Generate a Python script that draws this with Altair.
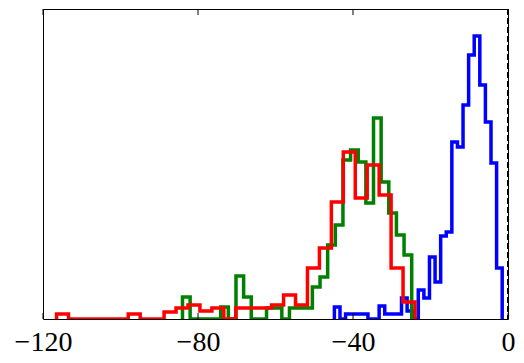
import altair as alt
import numpy as np
import pandas as pd

# Three step histograms, 30 bins each over their own range
blue_range = [-44.8, -1.5]
green_range = [-84.0, -24.85]
red_range = [-116.5, -24.0]

blue_counts = [12, 0, 5, 5, 5, 5, 0, 0, 13, 5, 5, 5, 21, 8, 0, 29, 21, 62, 37, 83,
               87, 177, 172, 214, 264, 283, 234, 197, 156, 51]
green_counts = [22, 0, 0, 0, 0, 12, 0, 43, 22, 0, 0, 11, 11, 0, 11, 11, 11, 32, 42, 74,
                94, 159, 169, 157, 116, 201, 137, 106, 84, 64]
red_counts = [5, 0, 0, 0, 0, 0, 5, 0, 0, 7, 11, 14, 8, 11, 0, 11, 11, 11, 14, 24,
              14, 51, 71, 117, 167, 121, 154, 124, 51, 17]

x_domain = [-120, 0]
y_domain = [0, 310]
tick_values = [-120, -80, -40, 0]
vline_x = [0]

SERIF = "'Liberation Serif', 'DejaVu Serif', serif"


def outline(name, rng, counts):
    edges = np.linspace(rng[0], rng[1], len(counts) + 1)
    xs, ys = [edges[0]], [0]
    for i, c in enumerate(counts):
        xs += [edges[i], edges[i + 1]]
        ys += [c, c]
    xs.append(edges[-1])
    ys.append(0)
    return pd.DataFrame({"x": xs, "y": ys, "order": range(len(xs)), "series": name})


xscale = alt.Scale(domain=x_domain, nice=False, zero=False)
yscale = alt.Scale(domain=y_domain, nice=False, zero=False)

xaxis = alt.Axis(values=tick_values, format="d", ticks=False, domain=False, grid=False,
                 labelFont=SERIF, labelFontSize=28, labelColor="black",
                 labelPadding=9, labelFlush=False, title=None)


def hist_layer(df, color):
    return alt.Chart(df).mark_line(color=color, strokeWidth=3.5, strokeJoin="miter",
                                   clip=True).encode(
        x=alt.X("x:Q", scale=xscale, axis=xaxis, title=None),
        y=alt.Y("y:Q", scale=yscale, axis=None),
        order="order:Q",
    )


blue = hist_layer(outline("blue", blue_range, blue_counts), "#0000ff")
green = hist_layer(outline("green", green_range, green_counts), "#008000")
red = hist_layer(outline("red", red_range, red_counts), "#ff0000")

ticks_df = pd.DataFrame({"t": tick_values})
bottom_ticks = alt.Chart(ticks_df).mark_rule(color="black", strokeWidth=1).encode(
    x=alt.X("t:Q", scale=xscale, axis=xaxis, title=None),
    y=alt.value(310), y2=alt.value(304))
top_ticks = alt.Chart(ticks_df).mark_rule(color="black", strokeWidth=1).encode(
    x=alt.X("t:Q", scale=xscale, axis=xaxis, title=None),
    y=alt.value(0), y2=alt.value(6))

vline = alt.Chart(pd.DataFrame({"v": vline_x})).mark_rule(
    color="black", strokeWidth=2, strokeDash=[6, 3]).encode(
    x=alt.X("v:Q", scale=xscale, axis=xaxis, title=None),
    y=alt.value(0), y2=alt.value(310))

chart = alt.layer(blue, green, red, bottom_ticks, top_ticks, vline).properties(
    width=465, height=310,
    autosize=alt.AutoSizeParams(type="none"),
    padding={"left": 35, "top": 1, "right": 8, "bottom": 36},
).configure_view(stroke="black", strokeWidth=1).configure_axis(
    labelFont=SERIF, labelFontSize=28, labelColor="black"
)

chart.save("out.html", embed_options={"renderer": "svg", "actions": False})
